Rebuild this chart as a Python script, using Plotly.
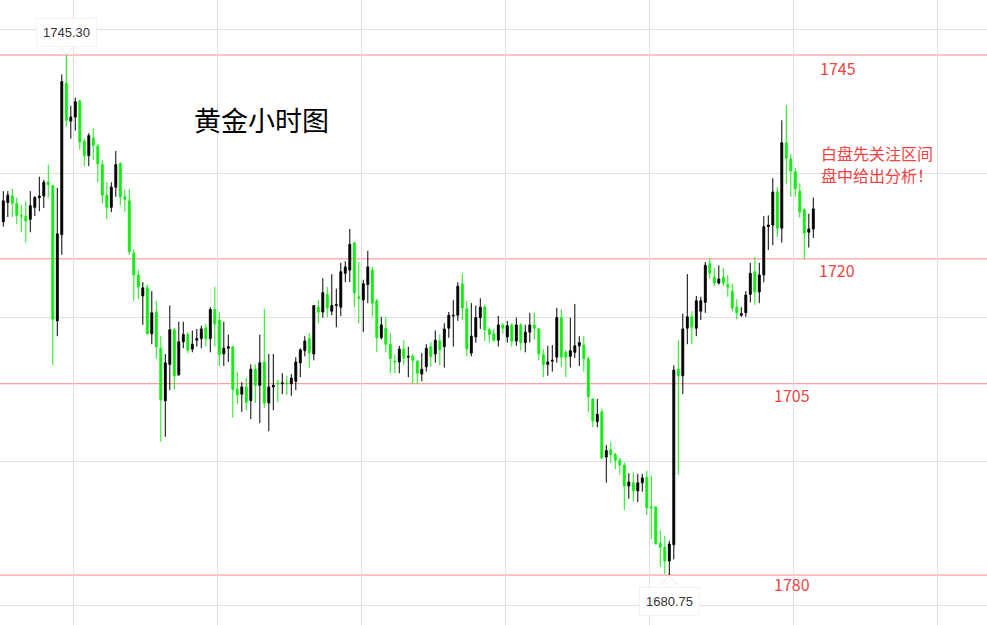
import plotly.graph_objects as go

# Gold hourly candles
open_ = [1724.6,1727.0,1727.8,1726.9,1725.4,1725.3,1724.9,1726.4,1727.6,1727.8,
         1729.5,1729.1,1712.3,1723.0,1741.8,1737.1,1737.6,1739.6,1734.6,1732.8,
         1735.0,1734.0,1731.7,1727.9,1726.4,1728.9,1731.8,1727.7,1727.2,1720.7,
         1718.0,1715.4,1716.4,1710.7,1713.4,1708.9,1702.4,1706.9,1711.2,1705.6,
         1709.7,1710.6,1708.8,1709.9,1710.1,1711.4,1710.1,1713.7,1712.4,1708.2,
         1708.9,1709.1,1703.8,1703.2,1704.1,1702.4,1706.3,1704.3,1707.2,1702.1,
         1704.1,1704.6,1704.5,1704.6,1704.5,1704.8,1707.1,1708.6,1710.1,1708.2,
         1714.0,1713.4,1715.6,1713.5,1714.2,1714.0,1718.2,1718.6,1722.0,1715.3,
         1714.9,1716.8,1718.6,1714.8,1710.2,1711.4,1709.4,1707.3,1707.2,1708.8,
         1707.8,1707.9,1707.3,1705.7,1706.6,1709.1,1708.2,1709.8,1709.1,1711.4,
         1712.9,1713.0,1716.9,1713.8,1708.3,1710.3,1712.7,1714.0,1711.2,1710.7,
         1709.9,1711.8,1710.3,1711.8,1709.8,1711.8,1709.6,1710.9,1711.8,1711.3,
         1708.1,1706.9,1707.3,1707.8,1712.7,1708.4,1707.9,1708.4,1709.2,1709.3,
         1707.6,1702.6,1699.8,1701.0,1695.4,1696.3,1695.7,1695.0,1694.4,1691.8,
         1692.2,1691.2,1692.2,1692.9,1689.2,1689.2,1684.7,1684.2,1682.5,1684.5,
         1706.3,1705.5,1711.4,1712.8,1711.4,1713.5,1714.6,1719.4,1717.7,1717.0,
         1717.7,1716.8,1716.0,1714.0,1713.0,1713.3,1715.6,1718.4,1715.9,1718.0,
         1724.0,1724.2,1728.3,1723.8,1734.4,1732.4,1730.8,1728.4,1726.1,1723.3,
         1723.7]
high = [1728.4,1728.4,1728.7,1727.6,1726.7,1727.1,1728.4,1727.8,1730.2,1729.8,
        1731.7,1729.2,1728.8,1742.9,1745.3,1739.0,1740.0,1739.7,1734.9,1735.6,
        1736.2,1734.3,1732.2,1729.5,1729.5,1733.4,1732.0,1728.6,1728.6,1721.2,
        1718.7,1717.1,1716.8,1716.0,1714.8,1710.4,1708.2,1714.2,1711.4,1712.2,
        1712.2,1710.9,1711.1,1711.3,1711.7,1711.9,1714.0,1716.5,1713.4,1712.2,
        1710.6,1709.2,1706.0,1704.7,1705.2,1706.9,1706.9,1710.6,1713.8,1708.2,
        1708.2,1705.0,1705.8,1705.5,1705.7,1707.8,1708.9,1710.4,1710.8,1714.2,
        1714.9,1717.6,1716.5,1718.1,1716.3,1719.5,1719.7,1723.7,1722.0,1719.6,
        1717.4,1721.0,1719.0,1715.0,1712.8,1712.8,1710.8,1708.1,1709.2,1709.9,
        1709.1,1708.2,1707.4,1708.3,1709.4,1709.7,1711.1,1710.6,1712.0,1713.4,
        1714.9,1717.1,1718.2,1714.8,1714.5,1714.2,1715.1,1714.3,1711.5,1711.3,
        1712.9,1712.0,1712.3,1712.0,1712.7,1712.0,1711.8,1713.3,1713.3,1711.4,
        1708.8,1709.2,1709.3,1713.9,1713.7,1708.7,1712.7,1714.4,1710.4,1710.4,
        1707.9,1702.7,1702.6,1701.4,1696.9,1697.3,1695.9,1695.3,1694.7,1693.4,
        1693.5,1693.3,1693.3,1693.7,1693.1,1689.3,1686.3,1685.6,1685.0,1706.8,
        1709.9,1713.2,1718.1,1713.5,1715.4,1715.3,1719.6,1720.1,1718.9,1719.2,
        1718.9,1718.0,1716.9,1715.0,1714.0,1716.0,1719.5,1720.2,1719.5,1725.3,
        1725.4,1730.0,1728.9,1737.2,1739.1,1733.0,1731.3,1729.4,1726.3,1725.6,
        1727.6]
low = [1724.0,1725.2,1725.2,1724.3,1723.3,1722.0,1723.3,1725.3,1725.9,1726.3,
       1727.6,1706.8,1710.4,1720.5,1736.4,1734.9,1735.9,1733.6,1731.5,1731.5,
       1732.3,1729.5,1726.9,1724.9,1725.8,1727.7,1726.6,1725.8,1720.5,1714.8,
       1715.0,1711.8,1710.6,1709.4,1707.6,1697.3,1697.9,1703.7,1703.8,1705.5,
       1708.9,1708.3,1708.4,1709.1,1708.9,1709.1,1708.4,1709.1,1706.7,1706.7,
       1707.2,1700.3,1702.0,1701.0,1701.2,1700.1,1702.1,1699.6,1701.5,1698.6,
       1701.2,1702.2,1703.2,1703.1,1703.0,1703.7,1705.3,1707.9,1706.5,1707.4,
       1712.0,1712.7,1712.8,1713.0,1711.5,1712.9,1717.1,1717.1,1714.0,1712.0,
       1710.9,1714.5,1712.8,1708.4,1710.0,1708.4,1705.8,1705.8,1705.8,1706.8,
       1705.3,1704.5,1704.5,1704.8,1706.0,1706.6,1707.1,1706.8,1706.5,1710.2,
       1709.1,1712.3,1712.4,1707.9,1707.9,1709.6,1711.3,1709.8,1709.6,1709.7,
       1709.1,1710.7,1709.6,1709.1,1709.2,1708.6,1708.4,1709.6,1710.0,1707.4,
       1705.3,1705.5,1706.0,1707.1,1706.6,1705.3,1706.5,1707.7,1706.7,1706.0,
       1701.0,1699.1,1699.1,1695.2,1692.2,1694.7,1693.9,1693.2,1688.8,1690.2,
       1689.9,1689.8,1691.1,1688.2,1685.2,1684.7,1681.8,1680.9,1680.75,1682.7,
       1693.2,1703.2,1709.4,1709.4,1710.4,1712.4,1713.3,1717.5,1716.6,1716.8,
       1716.6,1715.3,1713.5,1712.5,1712.8,1712.8,1714.6,1714.3,1714.5,1717.1,
       1721.1,1721.7,1722.7,1722.0,1729.3,1727.7,1727.7,1725.1,1719.9,1721.4,
       1722.6]
close = [1727.2,1727.9,1726.9,1725.4,1725.3,1724.7,1726.6,1727.6,1727.8,1729.5,
         1729.2,1712.5,1723.1,1742.0,1737.2,1737.6,1739.5,1734.5,1732.8,1735.3,
         1734.1,1731.8,1727.9,1726.4,1728.9,1731.7,1727.7,1727.4,1720.9,1718.0,
         1716.5,1716.4,1710.7,1713.3,1709.1,1702.5,1707.1,1711.2,1705.5,1709.7,
         1710.6,1708.7,1709.4,1710.1,1711.3,1710.1,1713.7,1711.9,1708.1,1708.9,
         1709.1,1703.8,1703.1,1704.1,1702.2,1706.3,1704.3,1707.1,1702.1,1704.1,
         1704.3,1704.5,1704.6,1704.5,1705.2,1707.2,1708.7,1709.8,1708.3,1714.2,
         1713.4,1715.8,1713.9,1714.2,1714.3,1718.4,1719.0,1721.8,1715.8,1715.1,
         1716.9,1719.0,1714.5,1710.2,1711.8,1709.4,1707.6,1707.2,1708.8,1707.7,
         1707.9,1707.4,1705.8,1706.3,1708.9,1707.9,1709.9,1708.7,1711.3,1713.0,
         1713.0,1716.6,1713.9,1708.8,1710.4,1712.7,1714.0,1711.2,1710.6,1709.9,
         1711.8,1711.4,1711.7,1709.8,1711.8,1709.6,1710.9,1711.8,1711.4,1708.2,
         1706.9,1707.2,1707.4,1712.7,1707.8,1707.8,1708.6,1709.2,1709.6,1707.6,
         1702.9,1699.9,1700.7,1695.3,1696.2,1695.7,1695.0,1694.4,1691.8,1692.3,
         1691.2,1692.2,1692.8,1689.1,1689.1,1684.6,1684.2,1682.5,1684.6,1706.2,
         1705.5,1711.3,1712.8,1711.5,1714.8,1714.8,1719.2,1718.2,1717.0,1717.5,
         1717.0,1716.5,1713.9,1713.3,1713.2,1715.5,1718.2,1715.9,1718.0,1724.0,
         1724.2,1728.3,1723.8,1734.4,1732.5,1730.9,1728.7,1725.8,1723.2,1723.7,
         1726.2]

levels = [1745.3, 1720.0, 1704.5, 1680.75]
level_labels = ["1745", "1720", "1705", "1780"]
title_text = "黄金小时图"
note_lines = ["白盘先关注区间", "盘中给出分析！"]

idx = list(range(len(open_)))

fig = go.Figure()
fig.add_trace(go.Candlestick(
    x=idx, open=open_, high=high, low=low, close=close,
    increasing=dict(line=dict(color="#000000", width=1), fillcolor="#000000"),
    decreasing=dict(line=dict(color="#11ee11", width=1), fillcolor="#11ee11"),
    whiskerwidth=0, hoverinfo="skip", showlegend=False,
))

grid = "#dedee4"
fig.update_layout(
    width=987, height=625,
    margin=dict(l=0, r=0, t=0, b=0),
    paper_bgcolor="white", plot_bgcolor="white",
    boxgap=0.4,
    hovermode=False,
    xaxis=dict(range=[-0.733, 218.6], showticklabels=False, showgrid=True,
               gridcolor=grid, gridwidth=1, tick0=15.7, dtick=32,
               zeroline=False, rangeslider=dict(visible=False), showline=False),
    yaxis=dict(range=[1674.55, 1752.13], showticklabels=False, showgrid=True,
               gridcolor=grid, gridwidth=1, tick0=1748.53, dtick=17.875,
               zeroline=False, showline=False),
)

shapes = []
for lv in levels:
    shapes.append(dict(type="line", xref="paper", x0=0, x1=1, yref="y", y0=lv, y1=lv,
                       line=dict(color="#ff8585", width=1), layer="below"))

red = "#ee4444"
cjk = "Noto Sans CJK SC"
ann = []
label_x = [818, 817, 772, 772]
label_shift = [-13, -11, -11, -9]
for lv, txt, lx, sh in zip(levels, level_labels, label_x, label_shift):
    ann.append(dict(text=txt, xref="paper", x=lx / 987, xanchor="left", yref="y", y=lv,
                    yanchor="middle", yshift=sh, showarrow=False,
                    font=dict(family=cjk, size=16, color=red)))

ann.append(dict(text=title_text, xref="paper", x=261 / 987, xanchor="center",
                yref="paper", y=1 - 119 / 625, yanchor="middle",
                showarrow=False, font=dict(family=cjk, size=27, color="#000000")))
for i, line in enumerate(note_lines):
    ann.append(dict(text=line, xref="paper", x=819 / 987, xanchor="left", yref="paper",
                    y=1 - (152.5 + 23 * i) / 625, yanchor="middle", showarrow=False,
                    font=dict(family=cjk, size=16, color=red)))

# high / low markers
hi_i = max(idx, key=lambda i: high[i])
lo_i = min(idx, key=lambda i: low[i])
for i, val, shift in [(hi_i, high[hi_i], 22.5), (lo_i, low[lo_i], -26.5)]:
    ann.append(dict(text=f"{val:.2f}", x=i, y=val, yshift=shift, showarrow=False,
                    xanchor="center", yanchor="middle",
                    bgcolor="white", bordercolor="#f2f2f2", borderwidth=1, borderpad=6,
                    font=dict(family="Liberation Sans", size=13, color="#333333")))
    s = 1 if shift > 0 else -1
    shapes.append(dict(type="path", xref="x", yref="y", xsizemode="pixel", ysizemode="pixel",
                       xanchor=i, yanchor=val,
                       path=f"M -9.5,{10*s} L 0,{1*s} L 9.5,{10*s}",
                       line=dict(color="#e6e6e6", width=1)))

fig.update_layout(shapes=shapes, annotations=ann)
fig.write_html("out.html", config={"displayModeBar": False},
               post_script="document.body.style.margin='0';")
